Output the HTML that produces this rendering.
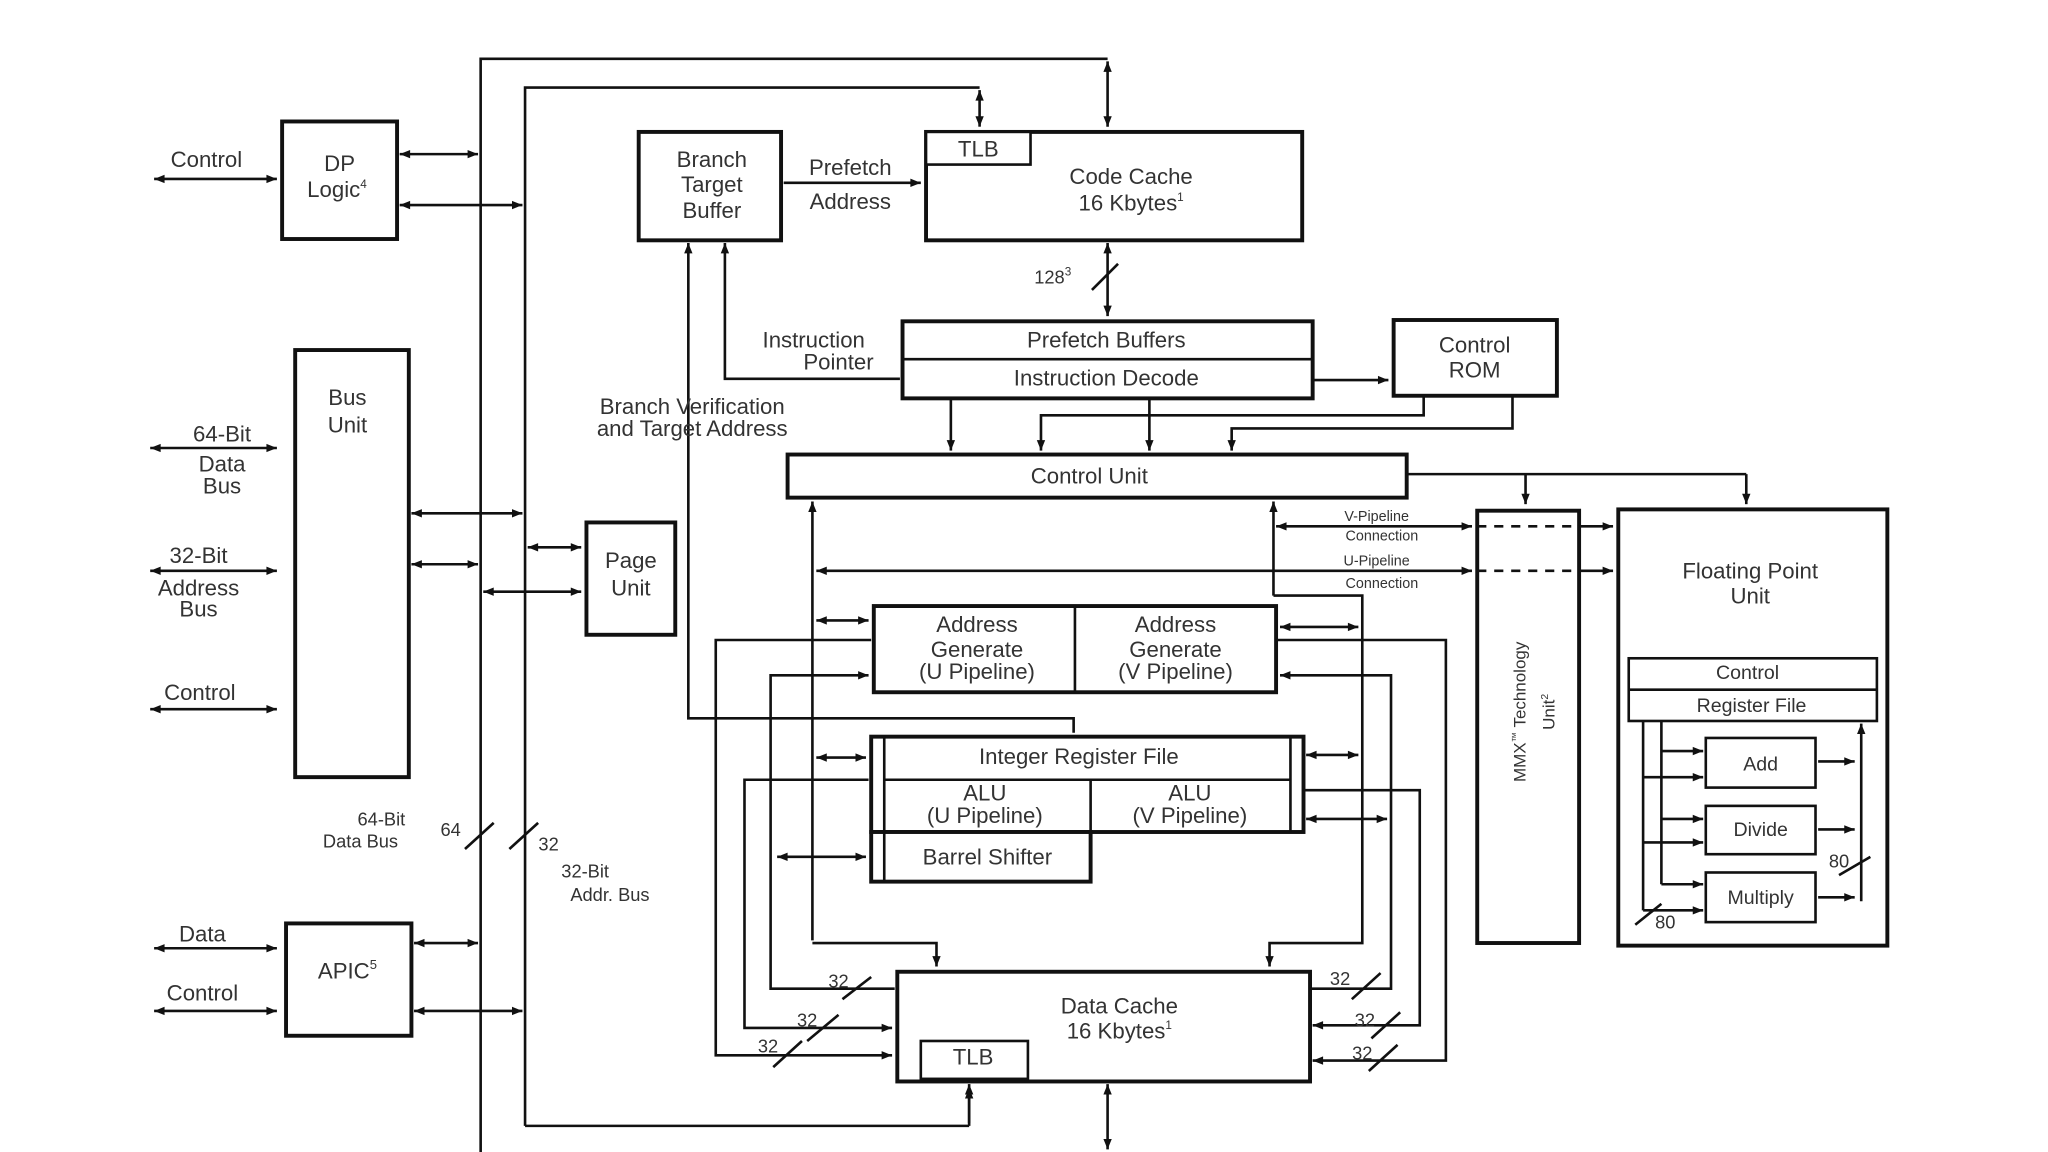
<!DOCTYPE html>
<html><head><meta charset="utf-8"><style>
html,body{margin:0;padding:0;background:#fff;}
svg{display:block}
text{font-family:"Liberation Sans",sans-serif;fill:#333;}
</style></head><body>
<svg width="2048" height="1152" viewBox="0 0 1568 882" xmlns="http://www.w3.org/2000/svg">
<defs>
<marker id="a" viewBox="0 0 10 10" refX="10" refY="5" markerWidth="10" markerHeight="8" markerUnits="userSpaceOnUse" orient="auto-start-reverse"><path d="M0,1 L10,5 L0,9 z" fill="#111"/></marker>
</defs>
<rect width="1568" height="882" fill="#fff"/>
<!-- boxes with white fill first -->
<g stroke="#111" fill="#fff" stroke-width="2">
<rect x="216" y="93" width="88" height="90" stroke-width="3"/>
<rect x="226" y="268" width="87" height="327" stroke-width="3"/>
<rect x="449" y="400" width="68" height="86" stroke-width="3"/>
<rect x="219" y="707" width="96" height="86" stroke-width="3"/>
<rect x="489" y="101" width="109" height="83" stroke-width="3"/>
<rect x="709" y="101" width="288" height="83" stroke-width="3"/>
<rect x="709" y="101" width="80" height="25"/>
<rect x="691" y="246" width="314" height="59" stroke-width="3"/>
<line x1="691" y1="275" x2="1005" y2="275"/>
<rect x="1067" y="245" width="125" height="58" stroke-width="3"/>
<rect x="603" y="348" width="474" height="33" stroke-width="3"/>
<rect x="1131" y="391" width="78" height="331" stroke-width="3"/>
<rect x="1239" y="390" width="206" height="334" stroke-width="3"/>
<rect x="669" y="464" width="308" height="66" stroke-width="3"/>
<line x1="823" y1="464" x2="823" y2="530"/>
<rect x="667" y="564" width="331" height="73" stroke-width="3"/>
<rect x="667" y="637" width="168" height="38" stroke-width="3"/>
<line x1="677" y1="564" x2="677" y2="675"/>
<line x1="988" y1="564" x2="988" y2="637"/>
<line x1="677" y1="597" x2="988" y2="597"/>
<line x1="835" y1="597" x2="835" y2="637"/>
<rect x="687" y="744" width="316" height="84" stroke-width="3"/>
<rect x="705" y="797" width="82" height="29"/>
</g>
<g stroke="#111" stroke-width="2" fill="none">
<polyline points="368,882 368,45 848,45"/>
<line x1="848" y1="47" x2="848" y2="97" marker-start="url(#a)" marker-end="url(#a)"/>
<polyline points="402,862 402,67 750,67"/>
<line x1="750" y1="69" x2="750" y2="97" marker-start="url(#a)" marker-end="url(#a)"/>
<polyline points="402,862 742,862"/>
<line x1="742" y1="860" x2="742" y2="830" marker-end="url(#a)"/>
<line x1="742" y1="833" x2="742" y2="862" marker-start="url(#a)"/>
<line x1="848" y1="830" x2="848" y2="880" marker-start="url(#a)" marker-end="url(#a)"/>
<line x1="118" y1="137" x2="212" y2="137" marker-start="url(#a)" marker-end="url(#a)"/>
<line x1="306" y1="118" x2="366" y2="118" marker-start="url(#a)" marker-end="url(#a)"/>
<line x1="306" y1="157" x2="400" y2="157" marker-start="url(#a)" marker-end="url(#a)"/>
<line x1="115" y1="343" x2="212" y2="343" marker-start="url(#a)" marker-end="url(#a)"/>
<line x1="115" y1="437" x2="212" y2="437" marker-start="url(#a)" marker-end="url(#a)"/>
<line x1="115" y1="543" x2="212" y2="543" marker-start="url(#a)" marker-end="url(#a)"/>
<line x1="315" y1="393" x2="400" y2="393" marker-start="url(#a)" marker-end="url(#a)"/>
<line x1="315" y1="432" x2="366" y2="432" marker-start="url(#a)" marker-end="url(#a)"/>
<line x1="404" y1="419" x2="445" y2="419" marker-start="url(#a)" marker-end="url(#a)"/>
<line x1="370" y1="453" x2="445" y2="453" marker-start="url(#a)" marker-end="url(#a)"/>
<line x1="356" y1="650" x2="378" y2="630"/>
<line x1="390" y1="650" x2="412" y2="630"/>
<line x1="118" y1="726" x2="212" y2="726" marker-start="url(#a)" marker-end="url(#a)"/>
<line x1="118" y1="774" x2="212" y2="774" marker-start="url(#a)" marker-end="url(#a)"/>
<line x1="317" y1="722" x2="366" y2="722" marker-start="url(#a)" marker-end="url(#a)"/>
<line x1="317" y1="774" x2="400" y2="774" marker-start="url(#a)" marker-end="url(#a)"/>
<line x1="600" y1="140" x2="705" y2="140" marker-end="url(#a)"/>
<line x1="848" y1="186" x2="848" y2="242" marker-start="url(#a)" marker-end="url(#a)"/>
<line x1="836" y1="222" x2="856" y2="202"/>
<polyline points="689,290 555,290 555,186" marker-end="url(#a)"/>
<polyline points="822,561 822,550 527,550 527,186" marker-end="url(#a)"/>
<line x1="1005" y1="291" x2="1063" y2="291" marker-end="url(#a)"/>
<line x1="728" y1="306" x2="728" y2="345" marker-end="url(#a)"/>
<line x1="880" y1="306" x2="880" y2="345" marker-end="url(#a)"/>
<polyline points="1090,304 1090,318 797,318 797,345" marker-end="url(#a)"/>
<polyline points="1158,304 1158,328 943,328 943,345" marker-end="url(#a)"/>
<line x1="1077" y1="363" x2="1337" y2="363"/>
<line x1="1168" y1="363" x2="1168" y2="386" marker-end="url(#a)"/>
<line x1="1337" y1="363" x2="1337" y2="386" marker-end="url(#a)"/>
<line x1="977" y1="403" x2="1127" y2="403" marker-start="url(#a)" marker-end="url(#a)"/>
<line x1="1131" y1="403" x2="1209" y2="403" stroke-dasharray="7,6"/>
<line x1="1209" y1="403" x2="1235" y2="403" marker-end="url(#a)"/>
<line x1="625" y1="437" x2="1127" y2="437" marker-start="url(#a)" marker-end="url(#a)"/>
<line x1="1131" y1="437" x2="1209" y2="437" stroke-dasharray="7,6"/>
<line x1="1209" y1="437" x2="1235" y2="437" marker-end="url(#a)"/>
<line x1="622" y1="720" x2="622" y2="384" marker-end="url(#a)"/>
<polyline points="622,722 717,722 717,740" marker-end="url(#a)"/>
<line x1="975" y1="456" x2="975" y2="384" marker-end="url(#a)"/>
<polyline points="975,456 1043,456 1043,722 972,722 972,740" marker-end="url(#a)"/>
<line x1="625" y1="475" x2="665" y2="475" marker-start="url(#a)" marker-end="url(#a)"/>
<line x1="980" y1="480" x2="1040" y2="480" marker-start="url(#a)" marker-end="url(#a)"/>
<polyline points="667,490 548,490 548,808 683,808" marker-end="url(#a)"/>
<polyline points="685,757 590,757 590,517 665,517" marker-end="url(#a)"/>
<polyline points="977,490 1107,490 1107,812 1005,812" marker-end="url(#a)"/>
<polyline points="1003,757 1065,757 1065,517 980,517" marker-end="url(#a)"/>
<line x1="625" y1="580" x2="663" y2="580" marker-start="url(#a)" marker-end="url(#a)"/>
<line x1="1000" y1="578" x2="1040" y2="578" marker-start="url(#a)" marker-end="url(#a)"/>
<polyline points="665,597 570,597 570,787 683,787" marker-end="url(#a)"/>
<polyline points="998,605 1087,605 1087,785 1005,785" marker-end="url(#a)"/>
<line x1="1000" y1="627" x2="1062" y2="627" marker-start="url(#a)" marker-end="url(#a)"/>
<line x1="595" y1="656" x2="663" y2="656" marker-start="url(#a)" marker-end="url(#a)"/>
<line x1="645" y1="765" x2="667" y2="748"/>
<line x1="618" y1="797" x2="642" y2="777"/>
<line x1="592" y1="817" x2="614" y2="797"/>
<line x1="1035" y1="765" x2="1057" y2="745"/>
<line x1="1050" y1="795" x2="1072" y2="775"/>
<line x1="1048" y1="820" x2="1070" y2="800"/>
<!-- FPU internals -->
<rect x="1247" y="504" width="190" height="48"/>
<line x1="1247" y1="528" x2="1437" y2="528"/>
<rect x="1306" y="565" width="84" height="38"/>
<rect x="1306" y="617" width="84" height="37"/>
<rect x="1306" y="668" width="84" height="38"/>
<line x1="1258" y1="552" x2="1258" y2="697"/>
<line x1="1272" y1="552" x2="1272" y2="677"/>
<line x1="1272" y1="575" x2="1304" y2="575" marker-end="url(#a)"/>
<line x1="1258" y1="595" x2="1304" y2="595" marker-end="url(#a)"/>
<line x1="1272" y1="627" x2="1304" y2="627" marker-end="url(#a)"/>
<line x1="1258" y1="645" x2="1304" y2="645" marker-end="url(#a)"/>
<line x1="1272" y1="677" x2="1304" y2="677" marker-end="url(#a)"/>
<line x1="1258" y1="697" x2="1304" y2="697" marker-end="url(#a)"/>
<line x1="1392" y1="583" x2="1420" y2="583" marker-end="url(#a)"/>
<line x1="1392" y1="635" x2="1420" y2="635" marker-end="url(#a)"/>
<line x1="1392" y1="687" x2="1420" y2="687" marker-end="url(#a)"/>
<line x1="1425" y1="690" x2="1425" y2="554" marker-end="url(#a)"/>
<line x1="1408" y1="670" x2="1432" y2="656"/>
<line x1="1252" y1="708" x2="1272" y2="692"/>
</g>
<g font-size="17" text-anchor="middle">
<text x="158" y="128">Control</text>
<text x="260" y="131">DP</text>
<text x="258" y="151">Logic<tspan font-size="9" dy="-7">4</tspan></text>
<text x="266" y="310">Bus</text>
<text x="266" y="331">Unit</text>
<text x="170" y="338">64-Bit</text>
<text x="170" y="361">Data</text>
<text x="170" y="378">Bus</text>
<text x="152" y="431">32-Bit</text>
<text x="152" y="456">Address</text>
<text x="152" y="472">Bus</text>
<text x="153" y="536">Control</text>
<text x="483" y="435">Page</text>
<text x="483" y="456">Unit</text>
<text x="155" y="721">Data</text>
<text x="155" y="766">Control</text>
<text x="266" y="749">APIC<tspan font-size="10" dy="-7">5</tspan></text>
<text x="545" y="128">Branch</text>
<text x="545" y="147">Target</text>
<text x="545" y="167">Buffer</text>
<text x="651" y="134">Prefetch</text>
<text x="651" y="160">Address</text>
<text x="749" y="120">TLB</text>
<text x="866" y="141">Code Cache</text>
<text x="866" y="161">16 Kbytes<tspan font-size="9" dy="-7">1</tspan></text>
<text x="847" y="266">Prefetch Buffers</text>
<text x="847" y="295">Instruction Decode</text>
<text x="1129" y="270">Control</text>
<text x="1129" y="289">ROM</text>
<text x="623" y="266">Instruction</text>
<text x="642" y="283">Pointer</text>
<text x="530" y="317">Branch Verification</text>
<text x="530" y="334">and Target Address</text>
<text x="834" y="370">Control Unit</text>
<text x="1340" y="443">Floating Point</text>
<text x="1340" y="462">Unit</text>
<text x="748" y="484">Address</text>
<text x="748" y="503">Generate</text>
<text x="748" y="520">(U Pipeline)</text>
<text x="900" y="484">Address</text>
<text x="900" y="503">Generate</text>
<text x="900" y="520">(V Pipeline)</text>
<text x="826" y="585">Integer Register File</text>
<text x="754" y="613">ALU</text>
<text x="754" y="630">(U Pipeline)</text>
<text x="911" y="613">ALU</text>
<text x="911" y="630">(V Pipeline)</text>
<text x="756" y="662">Barrel Shifter</text>
<text x="857" y="776">Data Cache</text>
<text x="857" y="795">16 Kbytes<tspan font-size="9" dy="-7">1</tspan></text>
<text x="745" y="815">TLB</text>
</g>
<g font-size="15" text-anchor="middle">
<text x="1338" y="520">Control</text>
<text x="1341" y="545">Register File</text>
<text x="1348" y="590">Add</text>
<text x="1348" y="640">Divide</text>
<text x="1348" y="692">Multiply</text>
</g>
<g font-size="14" text-anchor="middle">
<text x="806" y="217">128<tspan font-size="9" dy="-6">3</tspan></text>
<text x="292" y="632">64-Bit</text>
<text x="276" y="649">Data Bus</text>
<text x="345" y="640">64</text>
<text x="420" y="651">32</text>
<text x="448" y="672">32-Bit</text>
<text x="467" y="690">Addr. Bus</text>
<text x="642" y="756">32</text>
<text x="618" y="786">32</text>
<text x="588" y="806">32</text>
<text x="1026" y="754">32</text>
<text x="1045" y="786">32</text>
<text x="1043" y="811">32</text>
<text x="1408" y="664">80</text>
<text x="1275" y="711">80</text>
</g>
<g font-size="11" text-anchor="middle">
<text x="1054" y="399">V-Pipeline</text>
<text x="1058" y="414">Connection</text>
<text x="1054" y="433">U-Pipeline</text>
<text x="1058" y="450">Connection</text>
</g>
<text transform="translate(1168,545) rotate(-90)" font-size="13" text-anchor="middle">MMX<tspan font-size="8" dy="-5">™</tspan><tspan dy="5"> Technology</tspan></text>
<text transform="translate(1190,545) rotate(-90)" font-size="13" text-anchor="middle">Unit<tspan font-size="8" dy="-5">2</tspan></text>
</svg>
</body></html>
